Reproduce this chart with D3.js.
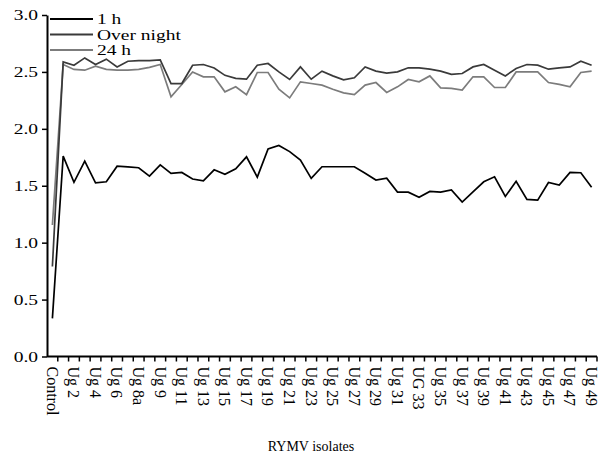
<!DOCTYPE html>
<html>
<head>
<meta charset="utf-8">
<script src="https://cdn.jsdelivr.net/npm/d3@7"></script>
<style>
  body { margin: 0; background: #fff; }
  text { font-family: "Liberation Serif", "Times New Roman", serif; fill: #000; }
</style>
</head>
<body>
<div id="chart"></div>
<script>
const categories = [
  'Control', 'Ug 1', 'Ug 2', 'Ug 3', 'Ug 4', 'Ug 5', 'Ug 6', 'Ug 7', 'Ug 8a', 'Ug 8b',
  'Ug 9', 'Ug 10', 'Ug 11', 'Ug 12', 'Ug 13', 'Ug 14', 'Ug 15', 'Ug 16', 'Ug 17', 'Ug 18',
  'Ug 19', 'Ug 20', 'Ug 21', 'Ug 22', 'Ug 23', 'Ug 24', 'Ug 25', 'Ug 26', 'Ug 27', 'Ug 28',
  'Ug 29', 'Ug 30', 'Ug 31', 'Ug 32', 'UG 33', 'Ug 34', 'Ug 35', 'Ug 36', 'Ug 37', 'Ug 38',
  'Ug 39', 'Ug 40', 'Ug 41', 'Ug 42', 'Ug 43', 'Ug 44', 'Ug 45', 'Ug 46', 'Ug 47', 'Ug 48',
  'Ug 49'
];

const oneHour = [
  0.335, 1.76, 1.53, 1.716, 1.526, 1.535, 1.672, 1.665, 1.658, 1.585,
  1.684, 1.608, 1.617, 1.559, 1.543, 1.64, 1.60, 1.649, 1.754, 1.576,
  1.824, 1.854, 1.80, 1.725, 1.565, 1.667, 1.667, 1.667, 1.667, 1.61,
  1.55, 1.567, 1.444, 1.444, 1.398, 1.45, 1.444, 1.464, 1.356, 1.447,
  1.535, 1.579, 1.406, 1.54, 1.38, 1.374, 1.529, 1.506, 1.617, 1.614,
  1.486
];

const overNight = [
  0.79, 2.588, 2.559, 2.623, 2.565, 2.612, 2.544, 2.594, 2.60, 2.60,
  2.606, 2.398, 2.398, 2.559, 2.565, 2.535, 2.47, 2.443, 2.436, 2.559,
  2.574, 2.50, 2.434, 2.544, 2.436, 2.507, 2.465, 2.43, 2.448, 2.544,
  2.507, 2.49, 2.50, 2.536, 2.536, 2.524, 2.507, 2.478, 2.486, 2.544,
  2.565, 2.515, 2.465, 2.53, 2.565, 2.56, 2.524, 2.536, 2.544, 2.594,
  2.559
];

const twentyFour = [
  1.155, 2.565, 2.522, 2.515, 2.55, 2.522, 2.515, 2.515, 2.522, 2.54,
  2.565, 2.281, 2.39, 2.50, 2.457, 2.457, 2.325, 2.369, 2.30, 2.495,
  2.495, 2.348, 2.272, 2.413, 2.398, 2.384, 2.348, 2.316, 2.30, 2.384,
  2.407, 2.32, 2.369, 2.434, 2.413, 2.465, 2.36, 2.355, 2.34, 2.457,
  2.457, 2.363, 2.363, 2.50, 2.50, 2.50, 2.407, 2.39, 2.369, 2.495,
  2.507
];

const seriesNames = ['1 h', 'Over night', '24 h'];
const seriesColors = ['#000000', '#3a3a3a', '#7c7c7c'];
const yTicks = [0, 0.5, 1.0, 1.5, 2.0, 2.5, 3.0];

const width = 598;
const height = 456;
const plot = { left: 47, right: 597, top: 15, bottom: 356.5 };

const svg = d3.select('#chart')
  .append('svg')
  .attr('width', width)
  .attr('height', height);

// scales
const xBand = d3.scaleBand()
  .domain(categories)
  .range([plot.left, plot.right])
  .padding(0);

const x = (c) => xBand(c) + xBand.bandwidth() / 2;

const y = d3.scaleLinear()
  .domain([0, 3])
  .range([plot.bottom, plot.top]);

// y axis
const yAxis = svg.append('g')
  .attr('transform', `translate(${plot.left},0)`)
  .call(d3.axisLeft(y).tickValues(yTicks).tickSize(5).tickSizeOuter(0).tickFormat(d3.format('.1f')));

yAxis.select('.domain').attr('stroke', '#000').attr('stroke-width', 2);
yAxis.selectAll('.tick line').attr('stroke', '#000').attr('stroke-width', 1.5);
yAxis.selectAll('.tick text')
  .attr('x', null)
  .attr('transform', 'translate(-9,0) scale(1.3,1)')
  .style('font-family', '"Liberation Serif", serif')
  .style('font-size', '15px')
  .attr('fill', '#000');

// x axis line
svg.append('line')
  .attr('x1', plot.left).attr('x2', plot.right)
  .attr('y1', plot.bottom).attr('y2', plot.bottom)
  .attr('stroke', '#000').attr('stroke-width', 2);

// ticks between categories
svg.append('g')
  .selectAll('line')
  .data(categories)
  .join('line')
  .attr('x1', (d) => xBand(d) + xBand.bandwidth())
  .attr('x2', (d) => xBand(d) + xBand.bandwidth())
  .attr('y1', plot.bottom)
  .attr('y2', plot.bottom + 5)
  .attr('stroke', '#000')
  .attr('stroke-width', 1.5);

// category labels, every other one
svg.append('g')
  .selectAll('text')
  .data(categories.filter((d, i) => i % 2 === 0))
  .join('text')
  .attr('transform', (d) => `translate(${x(d)},${plot.bottom + 10}) rotate(90)`)
  .attr('dy', '0.35em')
  .style('font-size', '16px')
  .text((d) => d);

// lines
const allSeries = [oneHour, overNight, twentyFour];
const line = d3.line()
  .x((d, i) => x(categories[i]))
  .y((d) => y(d));

svg.append('g')
  .selectAll('path')
  .data(allSeries.slice().reverse())
  .join('path')
  .attr('d', line)
  .attr('fill', 'none')
  .attr('stroke', (d, i) => seriesColors[2 - i])
  .attr('stroke-width', 1.7)
  .attr('stroke-linejoin', 'miter');

// legend
const legend = svg.append('g');
const baselines = [24, 39.5, 55];

seriesNames.forEach((name, i) => {
  legend.append('line')
    .attr('x1', 50).attr('x2', 93)
    .attr('y1', baselines[i] - 5).attr('y2', baselines[i] - 5)
    .attr('stroke', seriesColors[i])
    .attr('stroke-width', 2);
  legend.append('text')
    .attr('transform', `translate(97,${baselines[i]}) scale(1.3,1)`)
    .style('font-size', '15px')
    .text(name);
});

// x axis title
svg.append('text')
  .attr('x', 311)
  .attr('y', 451)
  .attr('text-anchor', 'middle')
  .style('font-size', '14px')
  .text('RYMV isolates');
</script>
</body>
</html>
